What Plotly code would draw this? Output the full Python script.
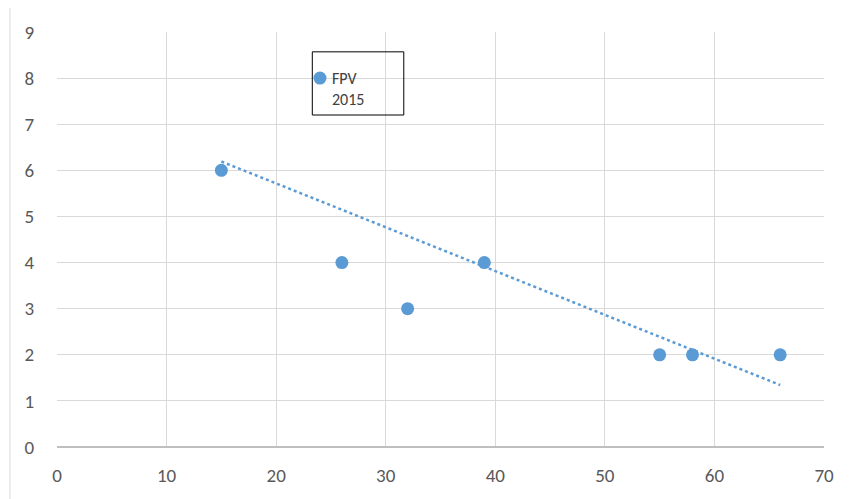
import numpy as np
import plotly.graph_objects as go

x_vals = [15, 24, 26, 32, 39, 55, 58, 66]
y_vals = [6, 8, 4, 3, 4, 2, 2, 2]
label_text = "FPV<br>2015"
label_point = (24, 8)

slope, intercept = np.polyfit(x_vals, y_vals, 1)
tx = [min(x_vals), max(x_vals)]
ty = [slope * v + intercept for v in tx]

blue = "#5B9BD5"
font_family = "Carlito, Liberation Sans Narrow, Open Sans, sans-serif"

fig = go.Figure()
fig.add_trace(go.Scatter(x=tx, y=ty, mode="lines",
                         line=dict(color=blue, width=2.5, dash="dot"),
                         hoverinfo="skip", showlegend=False))
fig.add_trace(go.Scatter(x=x_vals, y=y_vals, mode="markers",
                         marker=dict(color=blue, size=13),
                         showlegend=False))

fig.add_shape(type="rect", xref="x", yref="y",
              x0=23.3, x1=31.65, y0=7.2, y1=8.57,
              line=dict(color="#000000", width=1), fillcolor="rgba(0,0,0,0)")
fig.add_annotation(x=label_point[0], y=label_point[1], xref="x", yref="y",
                   text=label_text, showarrow=False, xanchor="left", yanchor="top",
                   xshift=10, yshift=11, align="left",
                   font=dict(family=font_family, size=16, color="#404040"))

fig.add_shape(type="rect", xref="paper", yref="paper",
              x0=-0.0613, x1=1.2, y0=-0.3, y1=1.0627,
              line=dict(color="#d9d9d9", width=1))

fig.update_xaxes(range=[0, 70], dtick=10, showgrid=True, gridcolor="#d9d9d9",
                 gridwidth=1, zeroline=False, showline=False, automargin=False,
                 tickfont=dict(family=font_family, size=19, color="#595959"),
                 ticks="outside", ticklen=11, tickcolor="rgba(0,0,0,0)", fixedrange=True)
fig.update_yaxes(range=[0, 9], dtick=1, showgrid=True, gridcolor="#d9d9d9",
                 gridwidth=1, zeroline=True, zerolinecolor="#bfbfbf", zerolinewidth=1.5,
                 showline=False, automargin=False,
                 tickfont=dict(family=font_family, size=19, color="#595959"),
                 ticks="outside", ticklen=18, tickcolor="rgba(0,0,0,0)", fixedrange=True)

fig.update_layout(width=844, height=491,
                  margin=dict(l=49, r=28, t=24, b=52),
                  paper_bgcolor="white", plot_bgcolor="white")

fig.write_html("out.html")
